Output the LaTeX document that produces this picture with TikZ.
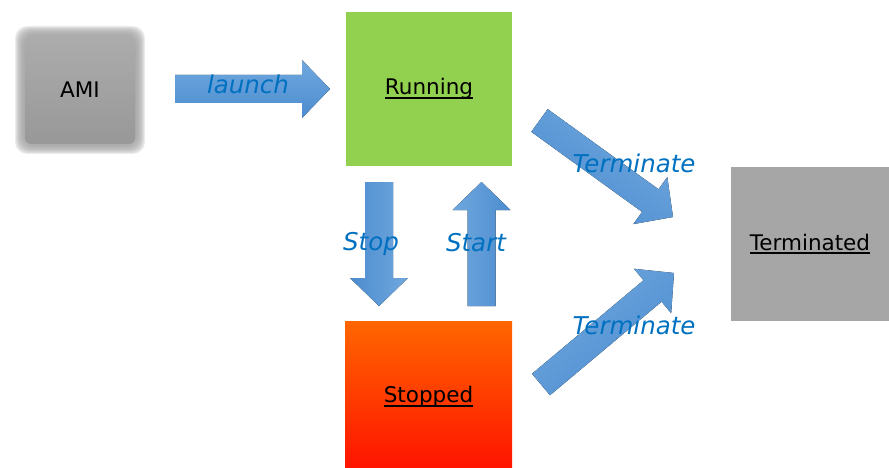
\documentclass[tikz,border=0pt]{standalone}
\usepackage{fontspec}
\setmainfont{DejaVu Sans}
\usetikzlibrary{calc}
\definecolor{runGreen}{RGB}{146,208,80}
\definecolor{stopOrange}{RGB}{255,102,0}
\definecolor{stopRed}{RGB}{255,20,0}
\definecolor{termGray}{RGB}{166,166,166}
\definecolor{amiTop}{RGB}{172,172,172}
\definecolor{amiBottom}{RGB}{152,152,152}
\definecolor{actBlue}{RGB}{0,112,192}
\definecolor{flowLight}{RGB}{112,168,222}
\definecolor{flowDark}{RGB}{76,140,207}
\tikzset{%
	state/.style={
		minimum width=#1,
		inner sep=0pt,
		font=\fontsize{21.5}{26}\selectfont
	},
	action/.style={
		text=actBlue,
		inner sep=0pt,
		font=\fontsize{24.5}{29}\selectfont\itshape
	},
	flow/.style={
		top color=flowLight,
		bottom color=flowDark
	},
}
% underlined state name
\newcommand\statelabel[1]{\setbox0=\hbox{#1}\rlap{\copy0}\rule[-.2em]{\wd0}{.09em}}
% block arrow from tail coordinate #1 to tip coordinate #2
\newcommand\flowarrow[2]{%
	\pgfmathanglebetweenpoints{\pgfpointanchor{#1}{center}}{\pgfpointanchor{#2}{center}}%
	\let\flowdir\pgfmathresult
	\coordinate (fa base) at ($(#2)!28pt!(#1)$);
	\fill[flow, shading angle=\flowdir] ($(#1)!14pt!90:(#2)$) -- ($(fa base)!14pt!90:(#2)$)
		-- ($(fa base)!29pt!90:(#2)$) -- (#2) -- ($(fa base)!29pt!-90:(#2)$)
		-- ($(fa base)!14pt!-90:(#2)$) -- ($(#1)!14pt!-90:(#2)$) -- cycle;
}

\begin{document}
\begin{tikzpicture}[x=1pt,y=-1pt]
	\useasboundingbox (0,0) rectangle (889,468);
	
	% Draw the soft AMI box
	\foreach \d in {-5,...,5}
		\fill[amiTop!50!amiBottom, fill opacity=0.2, rounded corners=12pt]
			(20+\d,31+\d) rectangle (140-\d,149-\d);
	\shade[top color=amiTop, bottom color=amiBottom, rounded corners=6pt] (25,36) rectangle (135,144);
	\node[state=120pt] (ami) at (80,90) {AMI};
	
	% Draw the states
	\node[state=166pt, minimum height=154pt, fill=runGreen] (running) at (429,89) {\statelabel{Running}};
	\node[state=167pt, minimum height=147pt, top color=stopOrange, bottom color=stopRed] (stopped) at (428.5,394.5) {};
	\node (stopped text) at (428.5,397) [state=0pt] {\statelabel{Stopped}};
	\node[state=158pt, minimum height=154pt, fill=termGray] (terminated) at (810,244) {\statelabel{Terminated}};
	
	% Arrow end points
	\coordinate (launch tail) at (175,89);
	\coordinate (launch tip) at (330,89);
	\coordinate (stop tail) at (379,182);
	\coordinate (stop tip) at (379,306);
	\coordinate (start tail) at (481.5,306);
	\coordinate (start tip) at (481.5,182);
	\coordinate (term1 tail) at (539.5,120.5);
	\coordinate (term1 tip) at (673,217);
	\coordinate (term2 tail) at (541,384.5);
	\coordinate (term2 tip) at (674,273);
	
	% Draw the arrows
	\flowarrow{launch tail}{launch tip}
	\flowarrow{stop tail}{stop tip}
	\flowarrow{start tail}{start tip}
	\flowarrow{term1 tail}{term1 tip}
	\flowarrow{term2 tail}{term2 tip}
	
	% Arrow labels
	\node[action] (launch) at (248,84) {launch};
	\node[action] (stop) at (371,244) {Stop};
	\node[action] (start) at (476,243) {Start};
	\node[action] (term1) at (634,163) {Terminate};
	\node[action] (term2) at (634,325) {Terminate};
	
\end{tikzpicture}
\end{document}
